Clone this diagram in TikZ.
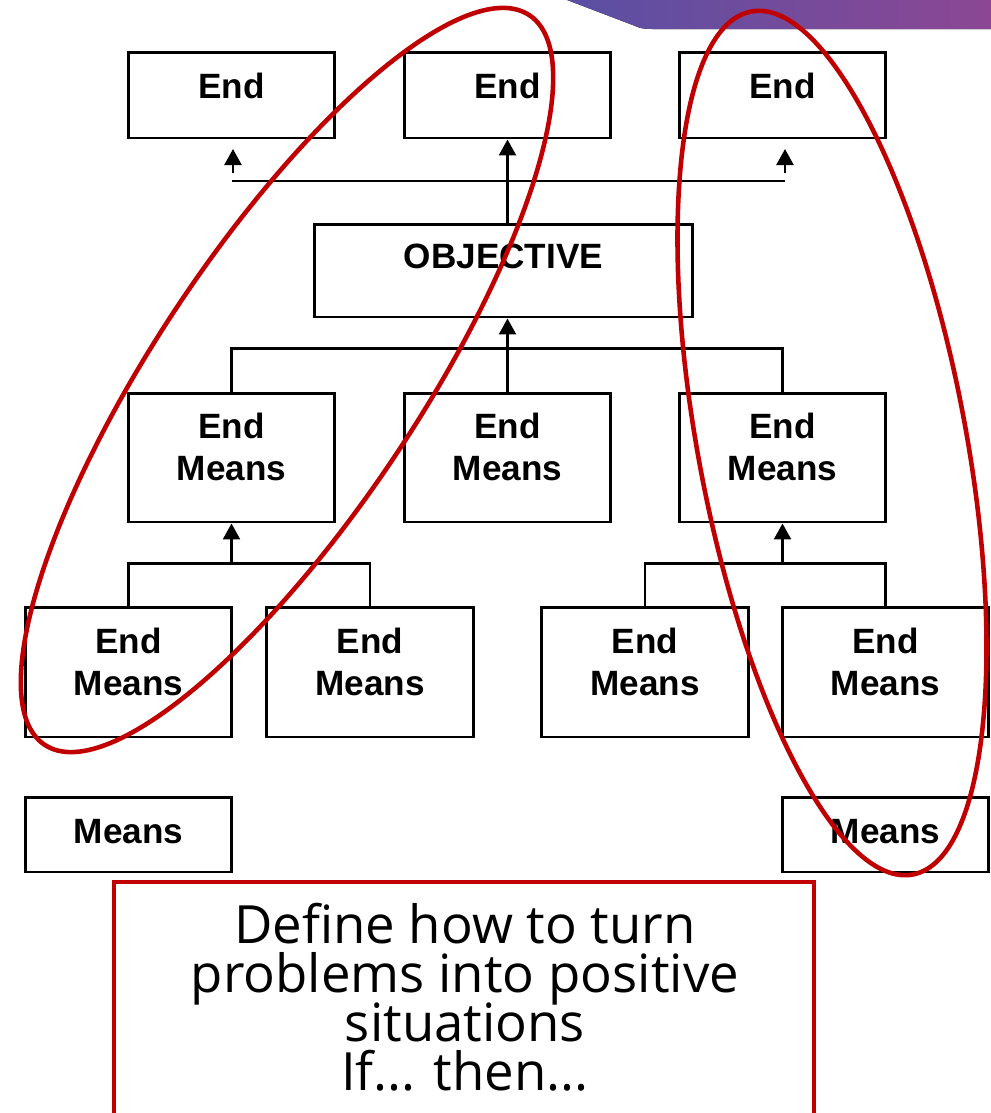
\documentclass[tikz,border=0pt]{standalone}
\usepackage{fontspec}
\setmainfont{Liberation Sans}
\newfontfamily\notefont{Open Sans}
\usetikzlibrary{arrows.meta}
\definecolor{ringred}{HTML}{C00000}
\definecolor{bandblue}{HTML}{5850A4}
\definecolor{bandpurple}{HTML}{8C4793}
\newcommand\tightlines{\setlength{\lineskiplimit}{-100pt}}
\begin{document}
\begin{tikzpicture}[x=0.02cm, y=-0.02cm,
  box/.style={draw=black, line width=1.7pt, fill=white, minimum width=4.14cm, inner sep=0pt},
  lbl/.style={font=\bfseries\fontsize{20}{23.8}\selectfont\tightlines, align=center, inner sep=0pt},
  link/.style={line width=1.35pt},
  arr/.style={link, -{Triangle[length=0.32cm,width=0.34cm]}},
  ring/.style={draw=ringred, line width=2.6pt},
  note/.style={draw=ringred, line width=2.3pt, fill=white, minimum width=14cm, minimum height=6.4cm, inner sep=0pt},
  notetext/.style={font=\notefont\fontsize{30}{27.8}\selectfont\tightlines, align=center, inner sep=0pt}]
\useasboundingbox (0,0) rectangle (991,1113);
\clip (0,0) rectangle (991,1113);

% header band
\fill[left color=bandblue, right color=bandpurple]
  (554,-5) -- (634,25.5) .. controls (641,28.5) .. (652,29) -- (995,29) -- (995,-5) -- cycle;

% top row: ends
\node[box, minimum height=1.72cm] (e1) at (231.5,95) {};
\node[box, minimum height=1.72cm] (e2) at (507.5,95) {};
\node[box, minimum height=1.72cm] (e3) at (782.5,95) {};
\node[lbl, anchor=base] (e1t) at (231.5,98) {End};
\node[lbl, anchor=base] (e2t) at (507.5,98) {End};
\node[lbl, anchor=base] (e3t) at (782.5,98) {End};

% objective
\node[box, minimum width=7.58cm, minimum height=1.86cm] (obj) at (503.5,270.5) {};
\node[lbl, anchor=base] (objt) at (503.5,268) {OBJECTIVE};

% middle row: end/means
\node[box, minimum height=2.58cm] (m1) at (231.5,457.5) {};
\node[box, minimum height=2.58cm] (m2) at (507.5,457.5) {};
\node[box, minimum height=2.58cm] (m3) at (782.5,457.5) {};
\node[lbl, anchor=north] (m1t) at (231.5,412.7) {End\\Means};
\node[lbl, anchor=north] (m2t) at (507.5,412.7) {End\\Means};
\node[lbl, anchor=north] (m3t) at (782.5,412.7) {End\\Means};

% lower row: end/means
\node[box, minimum height=2.6cm] (b1) at (128.5,672) {};
\node[box, minimum height=2.6cm] (b2) at (370,672) {};
\node[box, minimum height=2.6cm] (b3) at (645,672) {};
\node[box, minimum height=2.6cm] (b4) at (885.5,672) {};
\node[lbl, anchor=north] (b1t) at (128.5,627.7) {End\\Means};
\node[lbl, anchor=north] (b2t) at (370,627.7) {End\\Means};
\node[lbl, anchor=north] (b3t) at (645,627.7) {End\\Means};
\node[lbl, anchor=north] (b4t) at (885.5,627.7) {End\\Means};

% bottom row: means
\node[box, minimum height=1.5cm] (n1) at (128.5,834.5) {};
\node[box, minimum height=1.5cm] (n2) at (885.5,834.5) {};
\node[lbl, anchor=base] (n1t) at (128.5,843) {Means};
\node[lbl, anchor=base] (n2t) at (885.5,843) {Means};

% connectors between objective and ends
\coordinate (tl) at (232,181);
\coordinate (tr) at (785,181);
\draw[link] (tl) -- (tr);
\coordinate (al0) at (233,173);
\coordinate (al1) at (233,149);
\coordinate (ar0) at (785,173);
\coordinate (ar1) at (785,149);
\draw[arr] (al0) -- (al1);
\draw[arr] (ar0) -- (ar1);
\draw[arr] (e2.south |- obj.north) -- (e2.south);

% connectors from middle row to objective
\draw[link] (m1.north) -- ++(0,-43) -| (m3.north);
\draw[arr] (m2.north) -- (m2.north |- obj.south);

% connectors from lower row to middle row
\draw[link] (b1.north) -- ++(0,-42) coordinate (h1) -| (b2.north);
\draw[arr] (m1.south |- h1) -- (m1.south);
\draw[link] (b3.north) -- ++(0,-42) coordinate (h2) -| (b4.north);
\draw[arr] (m3.south |- h2) -- (m3.south);

% note box
\node[note] (nb) at (464,1042) {};
\node[notetext, anchor=north] (nbt) at (465,903) {Define how to turn\\problems into positive\\situations\\If... then...};

% highlighted chains
\draw[ring, rotate around={56.4:(287,380)}] (287,380) ellipse [x radius=438, y radius=132];
\draw[ring, rotate around={100.6:(832,443)}] (832,443) ellipse [x radius=439, y radius=134];
\end{tikzpicture}
\end{document}
